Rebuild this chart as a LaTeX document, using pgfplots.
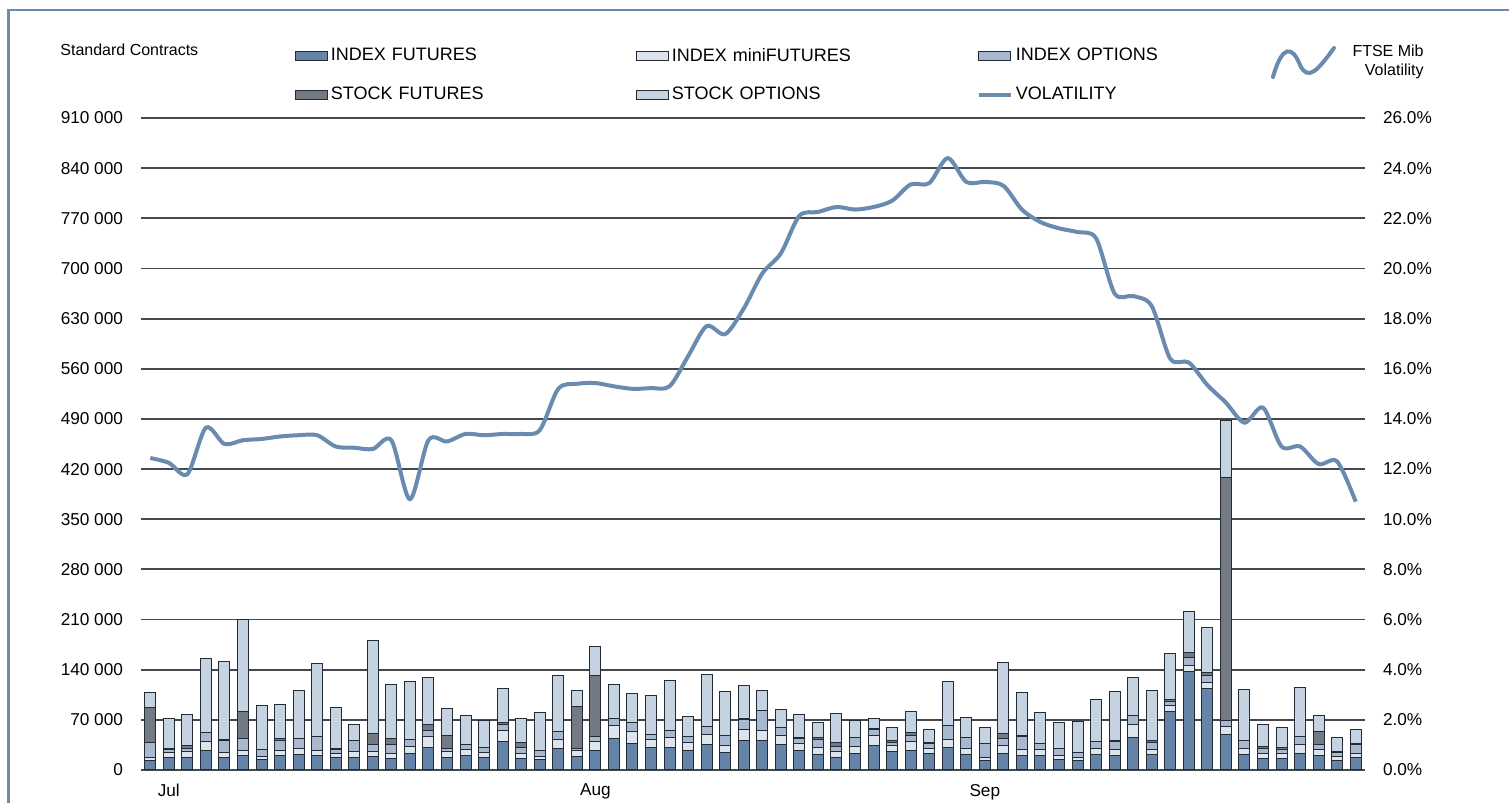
\documentclass[border=0pt]{standalone}
\usepackage{pgfplots}
\usepackage{pgfplotstable}
\pgfplotsset{compat=1.18}
\usepackage{fontspec}
\setmainfont{Liberation Sans}
\definecolor{cIF}{HTML}{6584A8}
\definecolor{cMF}{HTML}{DDE4EC}
\definecolor{cIO}{HTML}{A8B9CF}
\definecolor{cSF}{HTML}{737A83}
\definecolor{cSO}{HTML}{C5D3E0}
\definecolor{cLine}{HTML}{6A8BB0}
\definecolor{cEdge}{HTML}{222B36}
\definecolor{cGrid}{HTML}{45494F}
\pgfplotsset{
  barleg/.style={legend image code/.code={\draw[##1] (0pt,-2.2pt) rectangle (16pt,2.2pt);}},
  lineleg/.style={legend image code/.code={\draw[##1] (0pt,0pt) -- (16pt,0pt);}},
}

\pgfplotstableread{
i IF MF IO SF SO VOL
0 12.6 5.1 20.4 49.3 21.4 12.44
1 17.7 6.9 4.7 0.9 42.3 12.25
2 17.7 7.9 4.6 3.3 44.6 11.8
3 27.9 11.6 13.5 0 102.8 13.65
4 17.7 7.4 15.4 2.7 107.8 13.0
5 20.5 6.9 16.8 37.6 128.2 13.15
6 15.3 4.2 9.3 0 61.9 13.2
7 20.9 6.5 14.0 2.8 47.8 13.3
8 22.3 7.9 14.0 0 67.4 13.35
9 20.5 6.9 19.1 0 102.3 13.35
10 17.2 5.6 6.5 1.4 56.3 12.9
11 17.2 8.4 15.3 0 23.3 12.85
12 19.1 7.4 8.8 15.9 129.2 12.8
13 16.3 7.0 11.6 8.8 75.8 13.15
14 23.3 9.3 10.2 0 80.4 10.8
15 31.2 15.3 9.3 7.9 66.0 13.15
16 17.7 7.9 4.6 18.6 36.8 13.1
17 20.0 8.8 7.0 0 40.5 13.4
18 17.2 7.9 6.5 0 37.2 13.35
19 39.5 16.3 8.4 2.3 47.4 13.4
20 16.3 6.5 8.8 6.1 33.9 13.4
21 14.4 4.2 8.4 0 53.9 13.55
22 30.2 13.0 11.2 0 78.1 15.2
23 19.1 7.9 3.2 58.6 22.3 15.4
24 27.9 11.6 7.0 86.0 40.5 15.43
25 43.7 18.1 10.7 0 47.5 15.3
26 37.2 16.3 13.0 0 40.5 15.2
27 32.1 11.1 6.6 0 54.4 15.23
28 31.6 14.0 10.2 0 68.8 15.3
29 27.4 10.7 9.3 0 27.0 16.5
30 35.8 14.0 11.1 0 73.0 17.7
31 24.2 9.7 14.9 0 60.5 17.38
32 40.9 16.3 13.9 0.9 46.1 18.4
33 40.9 14.9 27.4 0 28.4 19.8
34 35.8 13.0 10.3 0 25.1 20.6
35 27.9 8.4 7.9 1.4 32.5 22.1
36 22.3 8.9 12.0 1.9 20.9 22.25
37 17.7 7.9 7.0 5.5 40.5 22.45
38 23.3 9.3 13.4 0 22.4 22.35
39 34.4 14.4 7.5 1.8 13.5 22.45
40 25.6 8.3 4.2 3.3 17.7 22.7
41 27.9 11.2 9.7 3.7 28.9 23.35
42 22.8 7.9 6.0 1.4 19.1 23.4
43 31.6 11.6 19.6 0 61.4 24.4
44 21.9 8.3 15.4 0 27.4 23.45
45 13.0 4.2 19.1 0.9 21.9 23.45
46 23.3 10.2 10.2 7.5 98.5 23.3
47 20.9 7.9 18.2 1.4 60.4 22.35
48 20.9 7.9 7.5 0 44.1 21.85
49 14.9 6.0 8.9 0 35.8 21.6
50 13.0 4.7 7.4 0 41.9 21.45
51 22.3 7.9 9.3 0 59.5 21.2
52 20.0 8.4 11.1 1.4 68.4 19.0
53 46.0 17.7 12.1 0 53.9 18.9
54 22.3 7.0 8.8 2.8 70.7 18.5
55 81.8 8.9 5.6 1.8 64.2 16.4
56 137.2 8.3 11.7 6.5 58.1 16.25
57 114.4 7.9 9.8 3.7 62.8 15.35
58 49.8 10.6 8.0 339.6 79.5 14.65
59 21.4 8.8 10.3 0 71.6 13.85
60 16.7 7.0 6.5 2.4 30.6 14.45
61 16.3 7.0 5.1 2.8 27.9 12.9
62 23.3 11.6 11.6 0 68.8 12.9
63 20.5 8.3 7.0 17.7 22.8 12.2
64 13.0 5.6 6.0 1.4 19.1 12.3
65 17.2 6.1 12.0 1.0 20.9 10.7
}\data

\begin{document}
\begin{tikzpicture}[x=0.5pt,y=0.5pt]
\useasboundingbox (0,0) rectangle (1509,803);
% frame
\draw[cLine, line width=1.2pt] (8.5,0) -- (8.5,793) -- (1509,793);
\node[anchor=west, font=\fontsize{8}{9}\selectfont, inner sep=0pt] at (60,753) {Standard Contracts};
\node[anchor=east, align=right, font=\fontsize{8}{9.5}\selectfont, inner sep=0pt] at (1424,741) {FTSE Mib\\Volatility};
\draw[cLine, line width=2pt, line cap=round] (1273,726) .. controls (1282,758) and (1292,758) .. (1300,738) .. controls (1308,721) and (1318,733) .. (1334,755);

\begin{axis}[
  at={(70.5pt,16.5pt)}, anchor=south west,
  scale only axis, width=612pt, height=326pt,
  xmin=-0.5, xmax=65.5, ymin=0, ymax=910000,
  ybar stacked, bar width=5.5pt,
  axis line style={draw=none},
  tick style={draw=none},
  ymajorgrids, major grid style={cGrid, line width=0.9pt},
  ytick={0,70000,140000,210000,280000,350000,420000,490000,560000,630000,700000,770000,840000,910000},
  yticklabels={0,70 000,140 000,210 000,280 000,350 000,420 000,490 000,560 000,630 000,700 000,770 000,840 000,910 000},
  yticklabel style={font=\fontsize{8.6}{10}\selectfont, anchor=east, xshift=-5.5pt},
  xtick={1,24,45}, xticklabels={Jul,Aug,Sep},
  xticklabel style={font=\fontsize{8.6}{10}\selectfont, yshift=-3.5pt},
  scaled y ticks=false,
  legend columns=3,
  legend cell align=left,
  barleg,
  legend style={draw=none, fill=none, at={(axis description cs:0.1205,1.12)}, anchor=north west,
    font=\fontsize{9}{10}\selectfont, row sep=7.6pt, column sep=0pt,
    nodes={inner xsep=1.5pt, text width=151pt, align=left}},
]
\addplot[fill=cIF, draw=cEdge, line width=0.5pt] table[x=i, y expr=\thisrow{IF}*1000] {\data};
\addlegendentry{INDEX FUTURES}
\addplot[fill=cMF, draw=cEdge, line width=0.5pt] table[x=i, y expr=\thisrow{MF}*1000] {\data};
\addlegendentry{INDEX miniFUTURES}
\addplot[fill=cIO, draw=cEdge, line width=0.5pt] table[x=i, y expr=\thisrow{IO}*1000] {\data};
\addlegendentry{INDEX OPTIONS}
\addplot[fill=cSF, draw=cEdge, line width=0.5pt] table[x=i, y expr=\thisrow{SF}*1000] {\data};
\addlegendentry{STOCK FUTURES}
\addplot[fill=cSO, draw=cEdge, line width=0.5pt] table[x=i, y expr=\thisrow{SO}*1000] {\data};
\addlegendentry{STOCK OPTIONS}
\addlegendimage{lineleg, draw=cLine, line width=2pt}
\addlegendentry{VOLATILITY}
\end{axis}

\begin{axis}[
  at={(70.5pt,16.5pt)}, anchor=south west,
  scale only axis, width=612pt, height=326pt,
  xmin=-0.5, xmax=65.5, ymin=0, ymax=26,
  axis line style={draw=none},
  tick style={draw=none},
  axis y line*=right, axis x line=none,
  ytick={0,2,4,6,8,10,12,14,16,18,20,22,24,26},
  yticklabels={0.0\%,2.0\%,4.0\%,6.0\%,8.0\%,10.0\%,12.0\%,14.0\%,16.0\%,18.0\%,20.0\%,22.0\%,24.0\%,26.0\%},
  yticklabel style={font=\fontsize{8.6}{10}\selectfont, anchor=west, xshift=5.5pt},
]
\addplot[cLine, line width=2pt, smooth, tension=0.5, mark=none] table[x=i, y=VOL] {\data};
\end{axis}
\end{tikzpicture}
\end{document}
